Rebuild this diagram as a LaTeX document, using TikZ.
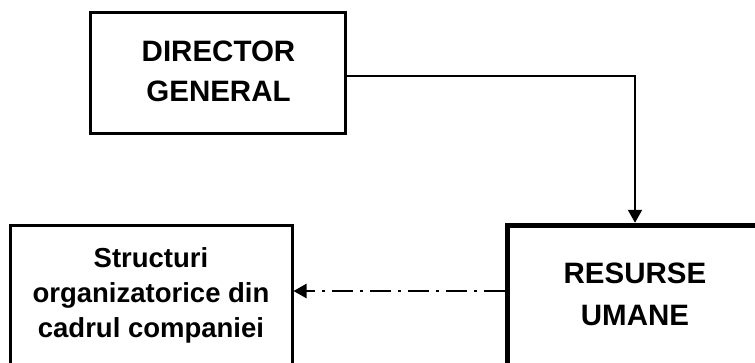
\documentclass[tikz,border=0pt]{standalone}
\usepackage{fontspec}
\setmainfont{Liberation Sans}
\usetikzlibrary{arrows.meta}

\tikzset{
  box/.style={draw=black, rectangle, inner sep=0pt, fill=none},
  caption/.style={align=center, inner sep=0pt, font=\bfseries},
  link/.style={draw=black, line width=2.2pt},
  tip/.style={-{Triangle[length=13pt,width=14pt]}},
  dashdotline/.style={dash pattern=on 21pt off 7pt on 3pt off 7pt},
}

\begin{document}
\begin{tikzpicture}[x=1pt, y=-1pt]
  \useasboundingbox (0,0) rectangle (755,362);
  \clip (0,0) rectangle (755,362);

  % boxes
  \node[box, line width=3pt, minimum width=255pt, minimum height=121pt]
    (dir) at (217.5,72.5) {};
  \node[box, line width=3pt, minimum width=281.5pt, minimum height=145pt]
    (str) at (151.25,297.5) {};
  \node[box, line width=5.5pt, minimum width=255pt, minimum height=146pt]
    (hr) at (635,298.5) {};

  % captions
  \node[caption, font=\bfseries\fontsize{29.5}{40}\selectfont]
    (dirtext) at (218.5,71) {DIRECTOR\\GENERAL};
  \node[caption, font=\bfseries\fontsize{27.5}{35}\selectfont]
    (strtext) at (151,295) {Structuri\\organizatorice din\\cadrul companiei};
  \node[caption, font=\bfseries\fontsize{29.5}{42}\selectfont]
    (hrtext) at (635,294.5) {RESURSE\\UMANE};

  % connectors
  \draw[link, tip] ([yshift=-3.2pt]dir.east) -| (hr.north);
  \coordinate (dl) at (0,291);
  \draw[link, line width=2.4pt, dashdotline, tip] (hr.west |- dl) -- (str.east |- dl);
\end{tikzpicture}
\end{document}
